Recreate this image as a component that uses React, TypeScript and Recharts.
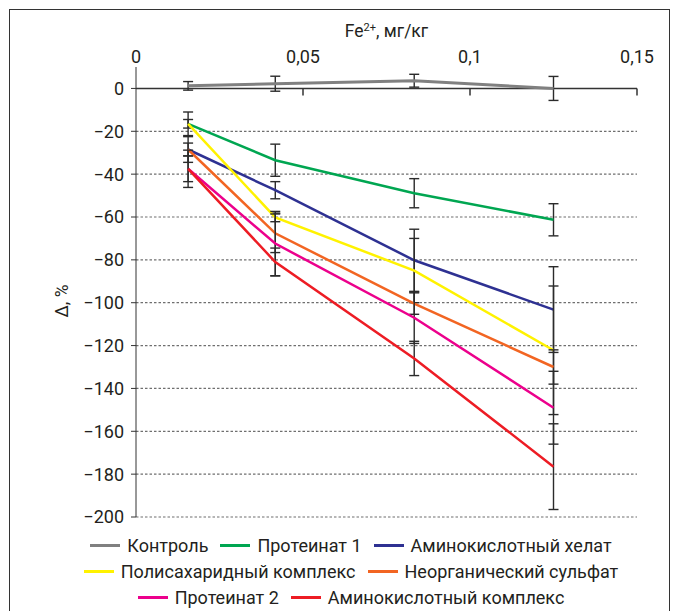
import { LineChart, Line, XAxis, YAxis, ErrorBar, ReferenceLine, Legend } from 'recharts';

// Fe2+ dose, mg/kg
const doses = [0.0156, 0.0417, 0.0833, 0.125];
const xTicks = [0, 0.05, 0.1, 0.15];
const yTicks = [-200, -180, -160, -140, -120, -100, -80, -60, -40, -20, 0];

const control = [1.2, 2.2, 3.6, 0];
const controlErr = [2, 3.5, 3, 5.6];
const proteinate1 = [-16.5, -33.5, -48.9, -61.3];
const proteinate1Err = [5.5, 7.5, 6.8, 7.5];
const aminoChelate = [-28.5, -47.5, -80.2, -103.2];
const aminoChelateErr = [6, 4, 14.5, 20];
const polysaccharide = [-16.5, -60.2, -85, -122.2];
const polysaccharideErr = [2, 2, 15, 30];
const sulfate = [-28.5, -67.6, -100.4, -130];
const sulfateErr = [3, 9, 5, 8];
const proteinate2 = [-37.5, -72.4, -107, -149];
const proteinate2Err = [6, 15, 12, 17];
const aminoComplex = [-37.5, -81, -126, -176.5];
const aminoComplexErr = [8.7, 6.5, 8, 20];

const series = [
  { key: 'control', name: 'Контроль', color: '#808080', width: 3, values: control, errs: controlErr },
  { key: 'p1', name: 'Протеинат 1', color: '#00a651', width: 2.5, values: proteinate1, errs: proteinate1Err },
  { key: 'chelate', name: 'Аминокислотный хелат', color: '#2e3192', width: 2.5, values: aminoChelate, errs: aminoChelateErr },
  { key: 'poly', name: 'Полисахаридный комплекс', color: '#fff200', width: 2.5, values: polysaccharide, errs: polysaccharideErr },
  { key: 'sulfate', name: 'Неорганический сульфат', color: '#f26522', width: 2.5, values: sulfate, errs: sulfateErr },
  { key: 'p2', name: 'Протеинат 2', color: '#ec008c', width: 2.5, values: proteinate2, errs: proteinate2Err },
  { key: 'complex', name: 'Аминокислотный комплекс', color: '#ed1c24', width: 2.5, values: aminoComplex, errs: aminoComplexErr },
];

const legendRows = [
  ['control', 'p1', 'chelate'],
  ['poly', 'sulfate'],
  ['p2', 'complex'],
];

const data = doses.map((x, i) => {
  const row: Record<string, number> = { x };
  series.forEach((s) => {
    row[s.key] = s.values[i];
    row[s.key + 'Err'] = s.errs[i];
  });
  return row;
});

const font = 'Roboto, "Noto Sans", sans-serif';
const ink = '#231f20';

const fmtX = (v: number) => String(v).replace('.', ',');
const fmtY = (v: number) => String(v).replace('-', '\u2212');

function LegendRows() {
  return (
    <div style={{ width: 680, height: 94, paddingTop: 15, paddingLeft: 22, boxSizing: 'border-box', fontFamily: font }}>
      {legendRows.map((row, r) => (
        <div key={r} style={{ display: 'flex', justifyContent: 'center', height: 26, alignItems: 'center' }}>
          {row.map((k) => {
            const s = series.find((d) => d.key === k)!;
            return (
              <span key={k} style={{ display: 'inline-flex', alignItems: 'center', margin: '0 6px' }}>
                <span style={{ width: 30, height: 3, background: s.color, marginRight: 7 }} />
                <span style={{ fontSize: 18, color: ink }}>{s.name}</span>
              </span>
            );
          })}
        </div>
      ))}
    </div>
  );
}

export default function App() {
  return (
    <div style={{ position: 'absolute', left: 0, top: 0, width: 680, height: 611, background: '#fff', fontFamily: font }}>
      <div
        style={{
          position: 'absolute', left: 9, top: 9, width: 661, height: 602,
          borderTop: '1.5px solid #333', borderLeft: '1.5px solid #333', borderRight: '1.5px solid #333',
          boxSizing: 'border-box',
        }}
      />
      <LineChart width={680} height={611} data={data} margin={{ top: 37, right: 43, bottom: 0, left: 0 }}>
        {yTicks.filter((t) => t !== 0).map((t) => (
          <ReferenceLine key={'g' + t} y={t} stroke="#6f6f6f" strokeWidth={1.2} strokeDasharray="2.5 2" />
        ))}
        <XAxis
          type="number"
          dataKey="x"
          orientation="top"
          height={30}
          domain={[0, 0.15]}
          ticks={xTicks}
          axisLine={false}
          tickLine={false}
          tickMargin={0}
          tickFormatter={fmtX}
          tick={{ fill: ink, fontSize: 18, dy: 2 }}
          label={{
            content: (props: any) => {
              const vb = props.viewBox || { x: 136, y: 37, width: 501 };
              return (
                <text x={vb.x + vb.width / 2} y={vb.y} textAnchor="middle" fill={ink} fontSize={17.5}>
                  Fe<tspan dy={-6} fontSize={11}>2+</tspan><tspan dy={6}>, мг/кг</tspan>
                </text>
              );
            },
          }}
        />
        <YAxis
          type="number"
          domain={[-200, 10]}
          ticks={yTicks}
          width={136}
          stroke="#333"
          tickSize={5}
          tickMargin={7}
          tickFormatter={fmtY}
          tick={{ fill: ink, fontSize: 18 }}
          label={{
            content: (props: any) => {
              const vb = props.viewBox || { x: 0, y: 67, width: 136, height: 450 };
              const cx = 62;
              const cy = vb.y + vb.height / 2 + 9;
              return (
                <text x={cx} y={cy} textAnchor="middle" dominantBaseline="central" fill={ink} fontSize={17.5}
                  transform={`rotate(-90 ${cx} ${cy})`}>
                  Δ, %
                </text>
              );
            },
          }}
        />
        <ReferenceLine y={0} stroke="#333" strokeWidth={1.5} />
        {xTicks.slice(1).map((t) => (
          <ReferenceLine key={t} segment={[{ x: t, y: 0 }, { x: t, y: -3.3 }]} stroke="#333" strokeWidth={1.5} />
        ))}
        <Legend verticalAlign="bottom" height={94} wrapperStyle={{ left: 0, width: 680 }} content={() => <LegendRows />} />
        {series.map((s) => (
          <Line
            key={s.key}
            type="linear"
            dataKey={s.key}
            name={s.name}
            stroke={s.color}
            strokeWidth={s.width}
            dot={false}
            activeDot={false}
            isAnimationActive={false}
          >
            <ErrorBar dataKey={s.key + 'Err'} width={5} stroke="#2b2b2b" strokeWidth={1.4} isAnimationActive={false} />
          </Line>
        ))}
      </LineChart>
    </div>
  );
}
